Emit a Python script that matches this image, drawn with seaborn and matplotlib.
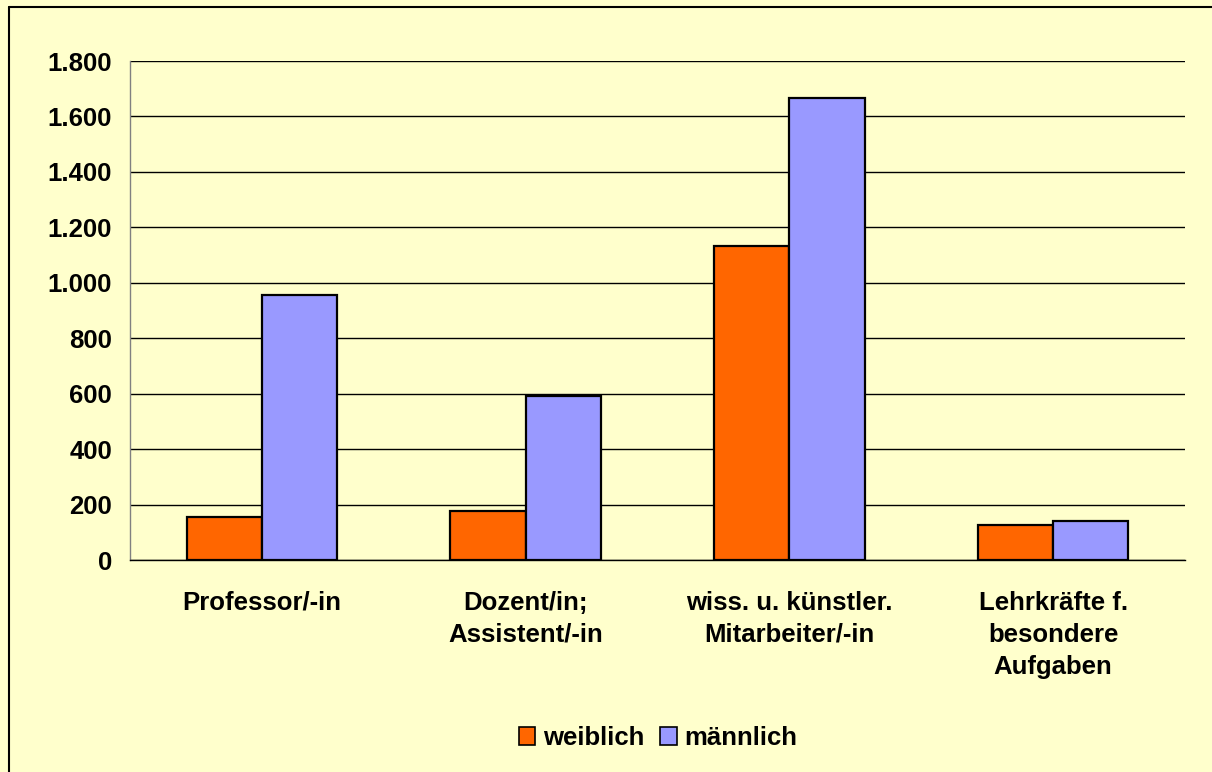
import numpy as np
import pandas as pd
import matplotlib
matplotlib.use("Agg")
import matplotlib.pyplot as plt
from matplotlib.lines import Line2D
from matplotlib.ticker import FuncFormatter, FixedLocator
import seaborn as sns

# Daten
kategorien = ["Professor/-in", "Dozent/in;\nAssistent/-in",
              "wiss. u. künstler.\nMitarbeiter/-in", "Lehrkräfte f.\nbesondere\nAufgaben"]
weiblich = [156, 176, 1134, 126]
maennlich = [955, 592, 1666, 139]
serien = ["weiblich", "männlich"]
farben = ["#FF6600", "#9999FF"]

df = pd.DataFrame({
    "kategorie": kategorien * 2,
    "anzahl": weiblich + maennlich,
    "geschlecht": [serien[0]] * 4 + [serien[1]] * 4,
})

sns.set_style("white")
plt.rcParams["font.family"] = ["Liberation Sans", "DejaVu Sans"]
plt.rcParams["font.weight"] = "bold"
plt.rcParams["text.color"] = "black"
plt.rcParams["xtick.color"] = "black"
plt.rcParams["ytick.color"] = "black"
plt.rcParams["xtick.labelcolor"] = "black"
plt.rcParams["ytick.labelcolor"] = "black"

fs = 18.5
bg = "#FFFFCC"
fig = plt.figure(figsize=(12.12, 7.72), dpi=100, facecolor=bg)
ax = fig.add_axes([130 / 1212, 1 - 560 / 772, 1055 / 1212, 499 / 772])
ax.set_facecolor(bg)

sns.barplot(data=df, x="kategorie", y="anzahl", hue="geschlecht",
            palette=farben, width=0.571, edgecolor="black", linewidth=1.6,
            saturation=1, ax=ax, zorder=3)

ax.set_xlim(-0.5, 3.5)
ax.set_ylim(0, 1800)
ax.set_yticks(np.arange(0, 1801, 200))
ax.yaxis.set_major_formatter(FuncFormatter(lambda v, p: f"{int(v):,}".replace(",", ".")))
ax.grid(axis="y", color="black", linewidth=1, zorder=0)
ax.set_axisbelow(True)

ax.set_xlabel("")
ax.set_ylabel("")
for s in ["top", "right"]:
    ax.spines[s].set_visible(False)
ax.spines["left"].set_color("#808080")
ax.spines["left"].set_linewidth(1)
ax.spines["bottom"].set_color("black")
ax.spines["bottom"].set_linewidth(1)

ax.tick_params(axis="y", direction="out", length=7, width=1, color="black",
               labelsize=fs, labelcolor="black", pad=6)
ax.tick_params(axis="x", which="major", length=0, labelsize=fs, labelcolor="black", pad=22)
ax.xaxis.set_minor_locator(FixedLocator([-0.5, 0.5, 1.5, 2.5, 3.5]))
ax.tick_params(axis="x", which="minor", direction="out", length=8, width=1, color="black")
for lab in ax.get_xticklabels():
    lab.set_fontweight("bold")
    lab.set_linespacing(1.42)
for lab in ax.get_yticklabels():
    lab.set_fontweight("bold")

# Legende unten
if ax.get_legend() is not None:
    ax.get_legend().remove()
handles = [plt.Rectangle((0, 0), 1, 1, facecolor=c, edgecolor="black", linewidth=1.2) for c in farben]
fig.legend(handles, serien, loc="center", bbox_to_anchor=(658 / 1212, 1 - 738 / 772),
           ncol=2, frameon=False, handlelength=0.65, handleheight=0.65,
           handletextpad=0.3, columnspacing=0.6, labelcolor="black",
           prop={"size": fs, "weight": "bold"})

# Rahmen links und oben
fig.add_artist(Line2D([8.5 / 1212, 8.5 / 1212], [0, 1 - 6.5 / 772], transform=fig.transFigure,
                      color="black", linewidth=1.5))
fig.add_artist(Line2D([8.5 / 1212, 1], [1 - 6.5 / 772, 1 - 6.5 / 772], transform=fig.transFigure,
                      color="black", linewidth=1.5))

fig.savefig("out.png", dpi=100, facecolor=bg)
